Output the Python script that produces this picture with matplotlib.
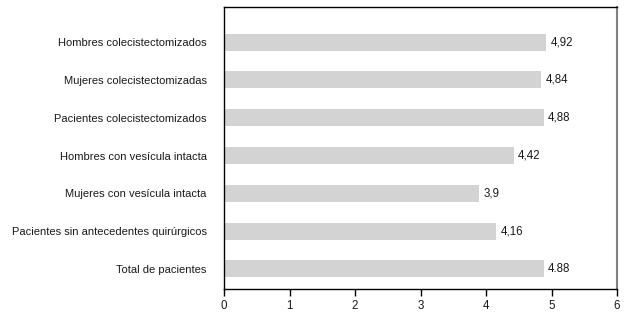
import matplotlib
matplotlib.use("Agg")
import matplotlib.pyplot as plt

categories = ["Hombres colecistectomizados", "Mujeres colecistectomizadas",
              "Pacientes colecistectomizados", "Hombres con vesícula intacta",
              "Mujeres con vesícula intacta", "Pacientes sin antecedentes quirúrgicos",
              "Total de pacientes"]
values = [4.92, 4.84, 4.88, 4.42, 3.9, 4.16, 4.88]
value_labels = ["4,92", "4,84", "4,88", "4,42", "3,9", "4,16", "4.88"]
xticks = [0, 1, 2, 3, 4, 5, 6]

plt.rcParams['font.family'] = ['Liberation Sans', 'DejaVu Sans']
fig = plt.figure(figsize=(6.4, 3.18), dpi=100)
ax = fig.add_axes([224/640, 1-289/318, (617-224)/640, (289-7)/318])

n = len(categories)
pos = [n-1-i for i in range(n)]
ax.barh(pos, values, height=0.45, color='#d3d3d3', edgecolor='none')
for p, v, lab in zip(pos, values, value_labels):
    ax.text(v + 0.07, p, lab, va='center', ha='left', fontsize=8.3, color='#1a1a1a')

ax.set_yticks(pos)
ax.set_yticklabels(categories, fontsize=8, color='#1a1a1a')
ax.tick_params(axis='y', length=0, pad=12.5)
ax.set_xticks(xticks)
ax.set_xticklabels([str(t) for t in xticks], fontsize=8.3, color='#1a1a1a')
ax.tick_params(axis='x', direction='out', length=5, width=1, pad=3)
ax.set_xlim(0, 6)
ax.set_ylim(-0.53, n - 1 + 0.93)
for s in ['left', 'bottom', 'top']:
    ax.spines[s].set_color('black')
    ax.spines[s].set_linewidth(1)
ax.spines['right'].set_color('#808080')
ax.spines['right'].set_linewidth(1.5)

fig.savefig("out.png", dpi=100)
